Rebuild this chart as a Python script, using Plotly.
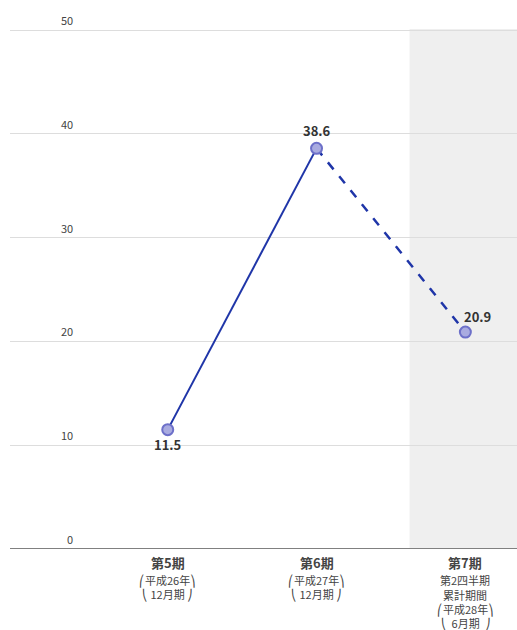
import plotly.graph_objects as go

categories = ["第5期", "第6期", "第7期"]
values = [11.5, 38.6, 20.9]
sub_labels = [
    ["⎛平成26年⎞<br>⎝ 12月期 ⎠"],
    ["⎛平成27年⎞<br>⎝ 12月期 ⎠"],
    ["第2四半期", "累計期間", "⎛平成28年⎞<br>⎝  6月期  ⎠"],
]
y_ticks = [0, 10, 20, 30, 40, 50]

xs = [0, 1, 2]
line_color = "#1f35a8"
fig = go.Figure()

# shaded forecast region
fig.add_shape(type="rect", xref="x", yref="paper", x0=1.625, x1=2.4, y0=0, y1=1,
              fillcolor="#efefef", line_width=0, layer="below")

fig.add_trace(go.Scatter(x=xs[:2], y=values[:2], mode="lines",
                         line=dict(color=line_color, width=2), showlegend=False))
fig.add_trace(go.Scatter(x=xs[1:], y=values[1:], mode="lines",
                         line=dict(color=line_color, width=2.5, dash="dash"), showlegend=False))
fig.add_trace(go.Scatter(x=xs, y=values, mode="markers",
                         marker=dict(size=11, color="#a9abe0", line=dict(color="#6d70c9", width=2)),
                         showlegend=False))

# data labels
offsets = [(0, 15), (0, -18), (12, -16)]
for x, v, (dx, dy) in zip(xs, values, offsets):
    fig.add_annotation(x=x, y=v, text=f"<b>{v}</b>", showarrow=False, xshift=dx, yshift=-dy,
                       font=dict(size=13, color="#333333", family="Noto Sans CJK JP"))

# y tick labels above gridlines
for t in y_ticks:
    fig.add_annotation(x=0, xref="paper", y=t, yref="y", text=str(t), showarrow=False,
                       xanchor="right", yanchor="bottom", xshift=65, yshift=0,
                       font=dict(size=11, color="#444444", family="Noto Sans CJK JP"))

# category labels under the axis
for x, c, subs in zip(xs, categories, sub_labels):
    fig.add_annotation(x=x, xref="x", y=0, yref="paper", text=f"<b>{c}</b>", showarrow=False,
                       yanchor="middle", yshift=-13,
                       font=dict(size=13, color="#444444", family="Noto Sans CJK JP"))
    for i, s in enumerate(subs):
        fig.add_annotation(x=x, xref="x", y=0, yref="paper", text=s, showarrow=False,
                           yanchor="top", yshift=-21 - 14.5 * i,
                           font=dict(size=11, color="#444444", family="Noto Sans CJK JP"))

fig.update_layout(
    width=517, height=630,
    margin=dict(l=10, r=0, t=29, b=81),
    plot_bgcolor="white", paper_bgcolor="white",
    font=dict(family="Noto Sans CJK JP", color="#444444"),
    xaxis=dict(range=[-1.06, 2.347], tickvals=xs, showticklabels=False, showgrid=False,
               zeroline=False, showline=False, ticks="", automargin=False),
    yaxis=dict(range=[0, 50.1], tickvals=y_ticks, showticklabels=False, showgrid=True,
               gridcolor="#dddddd", gridwidth=1, zeroline=False, automargin=False),
)
fig.add_shape(type="line", xref="paper", yref="y", x0=0, x1=1, y0=0, y1=0,
              line=dict(color="#808080", width=2))

fig.write_html("out.html", config={"displayModeBar": False},
               post_script="document.body.style.margin='0';document.body.style.overflow='hidden';")
